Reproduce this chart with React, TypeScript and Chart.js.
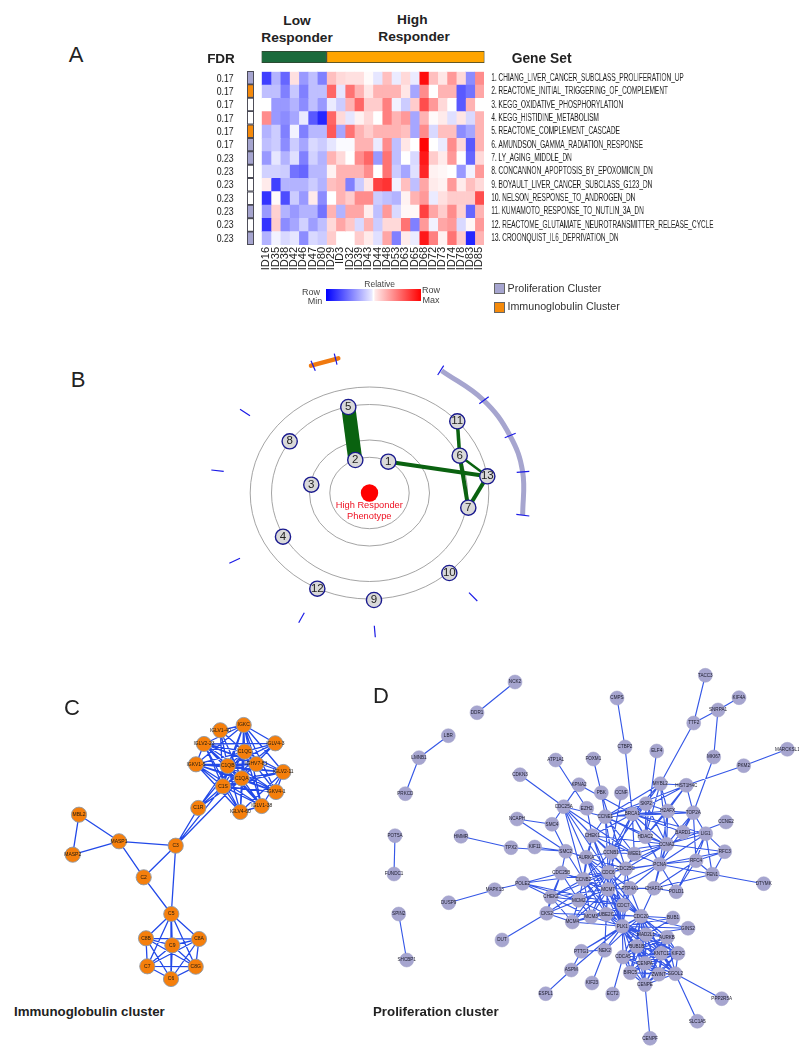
import React, { useEffect, useRef } from "react";
import { Chart, registerables } from "chart.js";
Chart.register(...registerables);

const SANS = '"Liberation Sans", Arial, sans-serif';

// ---------- Panel A data ----------
const sampleIds = ["ID16","ID35","ID38","ID42","ID46","ID47","ID80","ID29","ID3","ID32","ID39","ID43","ID44","ID48","ID53","ID63","ID65","ID68","ID72","ID73","ID74","ID78","ID83","ID85"];
const geneSets = [
  "1. CHIANG_LIVER_CANCER_SUBCLASS_PROLIFERATION_UP",
  "2. REACTOME_INITIAL_TRIGGERING_OF_COMPLEMENT",
  "3. KEGG_OXIDATIVE_PHOSPHORYLATION",
  "4. KEGG_HISTIDINE_METABOLISM",
  "5. REACTOME_COMPLEMENT_CASCADE",
  "6. AMUNDSON_GAMMA_RADIATION_RESPONSE",
  "7. LY_AGING_MIDDLE_DN",
  "8. CONCANNON_APOPTOSIS_BY_EPOXOMICIN_DN",
  "9. BOYAULT_LIVER_CANCER_SUBCLASS_G123_DN",
  "10. NELSON_RESPONSE_TO_ANDROGEN_DN",
  "11. KUMAMOTO_RESPONSE_TO_NUTLIN_3A_DN",
  "12. REACTOME_GLUTAMATE_NEUROTRANSMITTER_RELEASE_CYCLE",
  "13. CROONQUIST_IL6_DEPRIVATION_DN",
];
const fdrLabels = ["0.17","0.17","0.17","0.17","0.17","0.17","0.23","0.23","0.23","0.23","0.23","0.23","0.23"];
const clusterOfSet = ["P","O","N","N","O","P","P","N","N","N","P","N","P"];
const responderGroups = [["Low", 7], ["High", 17]];
const row1 = [-.75,-.3,-.6,.12,-.4,-.25,-.5,.25,.15,.12,.12,.02,-.1,.25,-.08,.15,-.08,.95,.25,.1,.4,.15,-.45,.45];
const row2 = [-.25,-.25,-.5,-.22,-.5,-.25,-.25,.6,-.1,.55,.3,.1,.3,.3,.3,.1,-.35,.45,0,.3,.3,-.65,-.55,.35];
const row3 = [0,-.4,-.4,-.3,-.45,-.25,-.4,-.08,-.2,.3,.6,.2,.2,.5,-.05,-.2,.2,.7,.4,.15,0,-.65,.3,0];
const row4 = [.45,-.4,-.45,-.35,-.08,-.65,-.85,.6,.15,-.1,.05,.15,0,.5,.3,.4,-.35,.3,.02,.08,-.12,.1,-.15,.3];
const row5 = [-.3,-.2,-.5,-.05,-.5,-.28,-.28,.65,-.35,.55,.3,.2,.3,.3,.3,.25,-.35,.45,-.15,.25,.25,-.45,-.35,.3];
const row6 = [-.25,-.2,-.45,-.2,-.35,-.15,-.2,-.1,-.02,-.02,.3,.3,-.08,.45,-.25,.1,0,.98,0,-.08,.45,.15,-.65,.3];
const row7 = [-.4,-.1,-.3,-.12,-.5,-.18,-.3,.3,.15,0,.45,.6,-.4,.55,-.25,0,-.15,.9,.2,.08,.4,0,-.6,.15];
const row8 = [-.18,-.18,-.2,-.55,-.6,-.28,-.28,.05,.3,.3,.3,.45,0,.55,-.2,-.35,-.12,.85,.05,.03,0,-.4,-.05,.4];
const row9 = [.08,-.75,-.3,-.3,-.3,-.2,-.3,.25,.3,-.5,-.2,.1,.75,.8,-.05,.25,-.25,.35,.08,.05,.4,.08,.25,.15];
const row10 = [-.8,.02,-.7,-.2,-.4,.08,-.45,0,.3,.2,.45,.45,-.2,-.25,-.3,.05,.3,.4,-.08,.12,.2,.2,.2,.7];
const row11 = [-.4,.18,-.3,-.4,-.3,-.3,-.55,.3,-.3,.35,.35,.07,-.25,.4,-.15,.03,.03,.75,.35,.2,.45,.18,-.6,.3];
const row12 = [-.8,.2,-.45,-.35,-.18,-.38,-.25,.15,.35,.22,-.15,.3,-.2,.15,.15,.55,-.5,.4,-.05,.35,.4,-.15,.03,.4];
const row13 = [-.3,-.05,-.15,-.1,-.45,-.15,-.2,.2,0,0,.2,.08,-.12,.35,-.5,.08,-.08,.9,.5,.05,.55,.2,-.85,.3];
const heatRows = [row1,row2,row3,row4,row5,row6,row7,row8,row9,row10,row11,row12,row13];

// ---------- Panel B data ----------
const enrichNodes: [string, number, number][] = [
  ["1",388.3,461.7],["2",355.3,460],["3",311.3,484.7],["4",283,536.7],["5",348.3,407],
  ["6",459.7,455.7],["7",468.3,507.7],["8",289.7,441.3],["9",374,600],["10",449.3,573],
  ["11",457.3,421.3],["12",317.3,588.7],["13",487.3,476.3],
];
const enrichEdges: [string, string, number][] = [
  ["5","2",14],["1","13",4],["11","6",3.5],["6","13",2.5],["6","7",4],["7","13",4],
];
const ringRadiiX = [39.7, 60, 98, 119.3];
const ringRadiiY = [35.7, 53, 88.5, 106];
const phenotypeCentre = { x: 369.5, y: 493 };
const sectorTicks = [
  [240,409.3,250,415.7],[211.3,470,223.7,471.3],[229.3,563.3,240,558.3],[298.7,622.7,304.3,612.7],
  [374.3,625.7,375.3,637.3],[469,592.7,477.3,601],[437.7,375,443.7,365.7],[479.3,403.7,488.7,396.7],
  [504.7,437.7,515.7,433.3],[516.7,472.3,529.3,471.3],[516.3,514.3,529.3,516],
];
const orangeTicks = [[311,360.7,315.3,370.7],[334.3,353.7,337,364.7]];
const proliferationArc = [[441.7,370.7],[483.3,400],[510,435.7],[522.7,472],[522.7,515]];
const immunoArc = [[311,365.7],[338.3,358.3]];

// ---------- Panel C data ----------
const immunoNodes: [string, number, number][] = [
  ["IGKC",243.7,725],["IGLV1-40",220.3,730.3],["IGLV2-23",204,744],["IGLV4-3",275.3,743.3],["C1QC",244.7,751.7],
  ["IGKV1-5",196,764.3],["C1QB",227.7,766],["IGHV7-81",256.3,764],["IGLV2-11",283.3,772],["C1QA",241.7,778.3],
  ["C1S",223,786.3],["IGKV4-1",276,792],["IGLV1-38",261.7,806],["IGLV4-60",240.3,812],["C1R",198.3,808],
  ["MBL2",79,814.7],["MASP1",119,841.3],["MASP2",72.7,854.7],["C3",175.7,845.7],["C2",143.7,877.3],
  ["C5",171.3,914],["C8B",146,938.3],["C8A",199,939],["C9",172.3,945.3],["C7",147.3,966.3],["C8G",195.7,966.7],["C6",171,979],
];
const immunoLeaves = ["IGKC","IGLV1-40","IGLV2-23","IGLV4-3","IGKV1-5","IGHV7-81","IGLV2-11","IGKV4-1","IGLV1-38","IGLV4-60"];
const immunoHubs = ["C1QA","C1QB","C1QC","C1S"];
const immunoHubEdges = ["C1QA C1QB","C1QA C1QC","C1QB C1QC","C1S C1QA","C1S C1QB","C1S C1QC","C1R C1S","C1R C1QA","C1R C1QB","C1R C1QC"];
const complementEdges = ["C3 C1R","C3 C1S","C3 C1QA","MBL2 MASP1","MBL2 MASP2","MASP1 MASP2","MASP1 C3","MASP1 C2","C2 C3","C2 C5","C3 C5"];
const terminalClique = ["C5","C8B","C8A","C9","C7","C8G","C6"];

// ---------- Panel D data ----------
const proliferationNodes: [string, number, number][] = [
  ["NCK2",515,682],["DDR1",477,712.7],["LBR",448.3,735.7],["LMNB1",419,757.7],["PRKCD",405.3,793.7],["POT5A",395,835.7],
  ["FUNDC1",394,874],["SPIN2",398.7,914],["SHCBP1",406.7,960],["HMMR",461,836.3],["TPX2",511,847.7],["KIF11",534.7,847],
  ["SMC2",565.7,851.3],["NCAPH",517,819],["SMC4",552,824.3],["CDKN3",520,774.7],["ATP1A1",555.7,760],["KPNA2",579,784.7],
  ["CDC25A",563.7,806.7],["FOXM1",593.3,759],["CMPS",617,698],["CTBP2",625,747],["ELF4",656.7,751],["TACC3",705.3,675.3],
  ["KIF4A",739,697.7],["SNRPA1",718,710],["TTF2",693.7,723],["MKI67",713.7,757],["MARCKSL1",787.3,749.3],["PKM2",743.7,765.7],
  ["MYBL2",660.3,783.7],["HIST1H4C",686.3,785.3],["PBK",601.3,792.7],["CCNF",621.3,793],["SKP2",646,803.7],["H2AFX",667.7,811],
  ["TOP2A",693.3,812.7],["CCNE1",605.3,816.7],["BRCA1",632.3,814],["EZH2",586.7,808.3],["CHEK1",592.3,835.7],["HDAC2",645.3,836.7],
  ["BARD1",683,832.3],["LIG1",705.7,833.7],["CCNE2",726,822],["CCNA2",666.7,844.3],["RFC3",724.7,851.7],["CCNB1",611,852.3],
  ["WEE1",634.3,854],["AURKA",586.3,857.3],["RFC4",696,860.7],["FEN1",712.3,874.3],["PCNA",659.7,864.3],["CDC25C",625.7,868.7],
  ["CDC6",608.3,872.3],["CCNB2",583.3,879.3],["CDC25B",561.3,873],["POLE2",522.7,883.3],["MAPK13",494.7,889.7],["DUSP9",448.7,902.7],
  ["CHEK2",551,897],["CKS2",546.7,913.3],["MCM4",572.3,922],["MCM2",578.7,900.3],["DUT",502,940],["MCM7",608,889.3],
  ["PTP4A1",630,888.3],["CHAF1A",654,888.3],["POLD1",676.3,891.7],["MCM3",591,916.7],["UBE2C",606.3,914.3],["CDC7",623.3,905.3],
  ["CDC20",641,916.3],["BUB1",673,918],["GINS2",688,928.3],["PLK1",622.3,926.3],["MAD2L1",646,934.7],["AURKB",667,937.3],
  ["NEK2",604.7,950.3],["PTTG1",581.3,951.3],["ASPM",571.3,970],["ESPL1",545.7,993.7],["KIF23",592,983],["ECT2",612.7,994],
  ["CDCA5",623,957],["BUB1B",636.7,946.3],["KNTC1",661.3,953.3],["KIF2C",678,953.3],["CENPA",645,963.3],["BIRC5",630.3,972.7],
  ["ZWINT",658.7,974.3],["SGOL2",675.3,973.7],["CENPE",645,984.7],["CENPF",650,1038.3],["SLC1A5",697.3,1021.3],["PPP2R5A",721.7,998.7],
  ["DTYMK",763.7,883.7],
];
const proliferationLinks = [
  "NCK2 DDR1","LBR LMNB1","LMNB1 PRKCD","POT5A FUNDC1","SPIN2 SHCBP1",
  "TACC3 TTF2","TTF2 SNRPA1","SNRPA1 KIF4A","SNRPA1 MKI67","MKI67 TOP2A","TTF2 MYBL2","CMPS CTBP2","CTBP2 BRCA1","ELF4 HDAC2",
  "MARCKSL1 PKM2","PKM2 HIST1H4C","HIST1H4C CCNE1","HMMR TPX2","TPX2 SMC2","KIF11 SMC2","NCAPH SMC4","NCAPH SMC2","SMC4 SMC2","SMC4 CDC25A",
  "CDKN3 CDC25A","ATP1A1 EZH2","KPNA2 CDC25A","KPNA2 BRCA1","FOXM1 PBK","DTYMK FEN1","DUT CKS2","DUSP9 MAPK13","MAPK13 POLE2",
  "KIF23 NEK2","ECT2 CDCA5","ESPL1 ASPM","ASPM PTTG1","ASPM PLK1","PTTG1 PLK1","CENPE CENPF","SGOL2 PPP2R5A","SGOL2 SLC1A5",
  "BRCA1 CCNE1 H2AFX TOP2A HDAC2 CHEK1 MYBL2 SKP2 BARD1 CCNA2 WEE1 PCNA LIG1 CCNB1 CDC6 HIST1H4C",
  "CCNE1 PBK CHEK1 H2AFX SKP2 MYBL2 HDAC2 CCNA2 CCNB1 CDC25A CDC6 WEE1 TOP2A",
  "H2AFX HIST1H4C BARD1 TOP2A CCNA2 HDAC2 MYBL2 SKP2 PCNA",
  "TOP2A HIST1H4C LIG1 RFC4 CCNA2 BARD1 PCNA",
  "HIST1H4C HDAC2 MYBL2",
  "MYBL2 SKP2 CCNA2 HDAC2",
  "SKP2 CCNA2 CCNB1 HDAC2",
  "LIG1 RFC3 RFC4 FEN1 PCNA CCNA2 BARD1 POLD1",
  "CCNE2 CCNA2","CCNF CCNB1","EZH2 CHEK1","PBK CDC25C",
  "RFC3 RFC4 FEN1 PCNA CCNA2","RFC4 FEN1 PCNA POLD1 CHAF1A",
  "CHEK1 CDC25A CCNB1 AURKA CDC6 WEE1 CDC25C PLK1 CCNB2 CCNA2",
  "CDC25A AURKA CDC25C CCNB2 CDC6 WEE1",
  "SMC2 AURKA CCNB2 CDC25B",
  "AURKA CCNB1 CCNB2 CDC25C CDC6 PLK1 UBE2C CDC20 MCM7",
  "CCNB1 CDC25C WEE1 CDC6 CCNA2 CCNB2 PLK1",
  "WEE1 CDC25C CCNA2 PCNA",
  "CCNA2 PCNA CDC25C HDAC2 CDC6 CHAF1A",
  "PCNA CDC25C CDC25C CHAF1A POLD1 FEN1 MCM7 CDC6 PTP4A1 HDAC2",
  "CHAF1A POLD1 POLD1 FEN1 PTP4A1 CDC20",
  "CDC25C CDC6 MCM7 CCNB2 PTP4A1 CDC7",
  "CDC6 CCNB2 MCM7 PTP4A1 CDC7 MCM2 MCM4 UBE2C MCM3 PLK1 CDC20 CHEK2 CKS2 POLE2",
  "CCNB2 PLK1 CDC20 UBE2C MCM3 CDC25B CHEK2 MCM7 MCM2",
  "CDC25B POLE2 CHEK2 MCM2 CKS2",
  "POLE2 CHEK2 MCM2 CDC7",
  "CHEK2 MCM2 MCM3 MCM4 MCM7 CDC7 CKS2",
  "CKS2 MCM2 MCM4 CDC20",
  "MCM2 MCM3 MCM4 MCM7 CDC7 UBE2C",
  "MCM3 MCM4 MCM7 CDC7 UBE2C PLK1",
  "MCM4 MCM7 CDC7 UBE2C PLK1",
  "MCM7 PTP4A1 CDC7 UBE2C PLK1 CDC20",
  "PTP4A1 CDC7 CDC20 PLK1",
  "CDC7 CDC20 PLK1 UBE2C",
  "UBE2C PLK1 CDC20 NEK2 MAD2L1 BUB1B",
  "NEK2 PLK1 CDC20 PTTG1",
  "PTTG1 CDC20",
  "PLK1 CDC20 MAD2L1 AURKB BUB1 BUB1B CDCA5 KNTC1 KIF2C CENPA BIRC5 ZWINT SGOL2 CENPE GINS2",
  "CDC20 BUB1 GINS2 MAD2L1 AURKB BUB1B CDCA5 KNTC1 KIF2C CENPA BIRC5 ZWINT SGOL2 CENPE",
  "MAD2L1 BUB1 GINS2 AURKB BUB1B CDCA5 KNTC1 KIF2C CENPA BIRC5 ZWINT SGOL2 CENPE",
  "AURKB BUB1B CDCA5 KNTC1 KIF2C CENPA BIRC5 ZWINT SGOL2 CENPE",
  "BUB1B CDCA5 KNTC1 KIF2C CENPA BIRC5 ZWINT SGOL2 CENPE",
  "CDCA5 KNTC1 KIF2C CENPA BIRC5 ZWINT SGOL2 CENPE",
  "KNTC1 KIF2C CENPA BIRC5 ZWINT SGOL2 CENPE",
  "KIF2C CENPA BIRC5 ZWINT SGOL2 CENPE",
  "CENPA BIRC5 ZWINT SGOL2 CENPE",
  "BIRC5 ZWINT SGOL2 CENPE",
  "ZWINT SGOL2 CENPE","SGOL2 CENPE",
];

// ---------- helpers ----------
function heatColor(v: number) {
  const k = Math.round(255 * (1 - Math.abs(v)));
  return v >= 0 ? `rgb(255,${k},${k})` : `rgb(${k},${k},255)`;
}
const clusterColor: Record<string, string> = { P: "#a6a5cf", O: "#f58a0b", N: "#ffffff" };

type Rect = { left: number; top: number; width: number; height: number };

const pageScales = (r: Rect) => ({
  x: { type: "linear", display: false, min: r.left, max: r.left + r.width },
  y: { type: "linear", display: false, min: r.top, max: r.top + r.height, reverse: true },
});
const baseOptions = {
  animation: false, responsive: false, maintainAspectRatio: false,
  layout: { padding: 0, autoPadding: false },
  plugins: { legend: { display: false }, tooltip: { enabled: false } },
};

const nodeLabelPlugin = (labels: string[], font: string, color: string, datasetIndex = 0) => ({
  id: "nodeLabels",
  afterDatasetsDraw(chart: any) {
    const { ctx } = chart;
    const meta = chart.getDatasetMeta(datasetIndex);
    ctx.save();
    ctx.font = font; ctx.fillStyle = color; ctx.textAlign = "center"; ctx.textBaseline = "middle";
    meta.data.forEach((p: any, i: number) => ctx.fillText(labels[i], p.x, p.y));
    ctx.restore();
  },
});

function expandLinks(lines: string[]) {
  const out: [string, string][] = [];
  lines.forEach((l) => { const [h, ...rest] = l.split(" "); rest.forEach((t) => out.push([h, t])); });
  return out;
}
function networkDatasets(nodes: [string, number, number][], edges: [string, string][], node: any, edge: any) {
  const at = new Map(nodes.map((n) => [n[0], { x: n[1], y: n[2] }]));
  const lineData: any[] = [];
  edges.forEach(([a, b]) => {
    const p = at.get(a), q = at.get(b);
    if (p && q) lineData.push(p, q, { x: NaN, y: NaN });
  });
  return [
    { data: nodes.map((n) => ({ x: n[1], y: n[2] })), order: 0, showLine: false, ...node },
    { data: lineData, order: 1, showLine: true, pointRadius: 0, spanGaps: false, ...edge },
  ];
}

const Txt = ({ x, y, s, size, bold, color, align = "center", family = SANS }: any) => (
  <div style={{
    position: "absolute", left: x, top: y, whiteSpace: "nowrap", lineHeight: 1, fontFamily: family,
    fontSize: size, fontWeight: bold ? 700 : 400, color: color || "#222",
    transform: align === "center" ? "translate(-50%,-50%)" : "translate(0,-50%)",
  }}>{s}</div>
);

// ---------- Charts ----------
const heatRect = { left: 261, top: 65, width: 224, height: 217 };
const stripRect = { left: 246, top: 70, width: 9, height: 176 };
const groupRect = { left: 261, top: 50, width: 224, height: 14 };
const bRect = { left: 200, top: 340, width: 350, height: 310 };
const cRect = { left: 40, top: 700, width: 270, height: 300 };
const dRect = { left: 372, top: 660, width: 427, height: 390 };
// condensed text columns: the canvas is drawn wider than it is shown
const fdrRect = { left: 205, top: 65, width: 30, height: 190, drawWidth: 40 };
const geneRect = { left: 490, top: 65, width: 240, height: 190, drawWidth: 369 };

function Canvas({ rect, make }: { rect: Rect & { drawWidth?: number }; make: (c: HTMLCanvasElement) => any }) {
  const ref = useRef<HTMLCanvasElement>(null);
  useEffect(() => {
    const ch = make(ref.current!);
    const el = ref.current!;
    el.style.width = rect.width + "px";
    el.style.height = rect.height + "px";
    return () => ch.destroy();
  }, []);
  return (
    <canvas ref={ref} width={rect.drawWidth ?? rect.width} height={rect.height}
      style={{ position: "absolute", left: rect.left, top: rect.top, width: rect.width, height: rect.height, display: "block" }} />
  );
}

const makeHeat = (c: HTMLCanvasElement) => new Chart(c, {
  type: "bar",
  data: {
    labels: geneSets,
    datasets: sampleIds.map((id, col) => ({
      label: id,
      data: geneSets.map(() => 1),
      backgroundColor: heatRows.map((r) => heatColor(r[col])),
      borderWidth: 0, barPercentage: 1, categoryPercentage: 1, stack: "s",
    })),
  },
  options: {
    ...baseOptions,
    indexAxis: "y",
    layout: { autoPadding: false, padding: { top: 6.7, left: 0.7, right: 1 } },
    scales: {
      x: { type: "linear", stacked: true, display: false, min: 0, max: 24 },
      y: { type: "category", stacked: true, offset: true, display: false },
      x2: {
        type: "category", axis: "x", position: "bottom", labels: sampleIds, offset: true,
        grid: { display: false, drawTicks: false }, border: { display: false },
        ticks: { padding: 2, color: "#222", font: { family: SANS, size: 11 }, minRotation: 90, maxRotation: 90, autoSkip: false },
        afterFit: (s: any) => { s.height = 37; s.paddingLeft = 0; s.paddingRight = 0; },
      },
    },
  },
} as any);

const labelColumn = (labels: string[], position: string, size: number) => (c: HTMLCanvasElement) => new Chart(c, {
  type: "bar",
  data: { labels, datasets: [] },
  options: {
    ...baseOptions,
    layout: { autoPadding: false, padding: { top: 6.7, bottom: 10 } },
    scales: {
      x: { display: false },
      y: {
        type: "category", position, offset: true,
        grid: { display: false, drawTicks: false }, border: { display: false },
        ticks: { padding: 0, color: "#222", font: { family: SANS, size }, autoSkip: false },
        afterFit: (s: any) => { s.width = c.width - 2; s.paddingTop = 0; s.paddingBottom = 0; },
      },
    },
  },
} as any);

const makeStrip = (c: HTMLCanvasElement) => new Chart(c, {
  type: "bar",
  data: {
    labels: fdrLabels.map((_, i) => String(i + 1)),
    datasets: [{
      data: clusterOfSet.map(() => 1),
      backgroundColor: clusterOfSet.map((k) => clusterColor[k]),
      borderColor: "#4a4a55", borderWidth: 1.3, borderSkipped: false, barPercentage: 1, categoryPercentage: 1,
    }],
  },
  options: {
    ...baseOptions, indexAxis: "y",
    layout: { autoPadding: false, padding: { left: 1, right: 1, top: 1, bottom: 1 } },
    scales: { x: { display: false, min: 0, max: 1 }, y: { display: false, offset: true } },
  },
} as any);

const makeGroups = (c: HTMLCanvasElement) => new Chart(c, {
  type: "bar",
  data: {
    labels: ["group"],
    datasets: responderGroups.map(([name, n], i) => ({
      label: name as string, data: [n as number],
      backgroundColor: ["#1b6b3c", "#ffa500"][i],
      borderColor: "#33402f", borderWidth: 1, borderSkipped: false, barPercentage: 1, categoryPercentage: 1,
    })),
  },
  options: {
    ...baseOptions, indexAxis: "y",
    layout: { autoPadding: false, padding: { left: 0.5, right: 0.5, top: 1, bottom: 1 } },
    scales: { x: { display: false, stacked: true, min: 0, max: 24 }, y: { display: false, stacked: true } },
  },
} as any);

const ringsPlugin = {
  id: "rings",
  beforeDatasetsDraw(chart: any) {
    const { ctx, scales } = chart;
    const cx = scales.x.getPixelForValue(phenotypeCentre.x);
    const cy = scales.y.getPixelForValue(phenotypeCentre.y);
    ctx.save();
    ctx.strokeStyle = "#9a9a9a"; ctx.lineWidth = 0.9;
    ringRadiiX.forEach((rx, i) => {
      const px = scales.x.getPixelForValue(phenotypeCentre.x + rx) - cx;
      const py = scales.y.getPixelForValue(phenotypeCentre.y + ringRadiiY[i]) - cy;
      ctx.beginPath(); ctx.ellipse(cx, cy, px, py, 0, 0, Math.PI * 2); ctx.stroke();
    });
    ctx.restore();
  },
};

const makeEnrichment = (c: HTMLCanvasElement) => {
  const at = new Map(enrichNodes.map((n) => [n[0], { x: n[1], y: n[2] }]));
  const seg = (t: number[], color: string, order: number) => ({
    data: [{ x: t[0], y: t[1] }, { x: t[2], y: t[3] }], showLine: true, pointRadius: 0,
    borderColor: color, borderWidth: 1.2, order,
  });
  return new Chart(c, {
    type: "scatter",
    data: {
      datasets: [
        {
          data: enrichNodes.map((n) => ({ x: n[1], y: n[2] })), order: 0, pointRadius: 7.6,
          pointBackgroundColor: "#d9d9d9", pointBorderColor: "#1a1a8e", pointBorderWidth: 1.4,
        },
        { data: [phenotypeCentre], order: 1, pointRadius: 8.7, pointBackgroundColor: "#ff0000", pointBorderWidth: 0 },
        ...enrichEdges.map(([a, b, w]) => ({
          data: [at.get(a), at.get(b)], showLine: true, pointRadius: 0, borderColor: "#0a6210", borderWidth: w, order: 2,
        })),
        ...sectorTicks.map((t) => seg(t, "#1a1ae6", 3)),
        ...orangeTicks.map((t) => seg(t, "#1a1ae6", 3)),
        {
          data: proliferationArc.map(([x, y]) => ({ x, y })), showLine: true, tension: 0.4, pointRadius: 0,
          borderColor: "#a6a5cf", borderWidth: 5, order: 4, borderCapStyle: "butt",
        },
        {
          data: immunoArc.map(([x, y]) => ({ x, y })), showLine: true, pointRadius: 0,
          borderColor: "#f0790f", borderWidth: 4.5, order: 4, borderCapStyle: "round",
        },
      ],
    },
    options: { ...baseOptions, scales: pageScales(bRect) },
    plugins: [ringsPlugin, nodeLabelPlugin(enrichNodes.map((n) => n[0]), `11.5px ${SANS}`, "#222")],
  } as any);
};

const makeImmuno = (c: HTMLCanvasElement) => {
  const edges: [string, string][] = [];
  immunoHubs.forEach((h) => immunoLeaves.forEach((l) => edges.push([h, l])));
  immunoLeaves.forEach((a, i) => immunoLeaves.slice(i + 1).forEach((b) => { if (i % 2 === 0) edges.push([a, b]); }));
  terminalClique.forEach((a, i) => terminalClique.slice(i + 1).forEach((b) => edges.push([a, b])));
  [...immunoHubEdges, ...complementEdges].forEach((s) => { const [a, b] = s.split(" "); edges.push([a, b]); });
  return new Chart(c, {
    type: "scatter",
    data: {
      datasets: networkDatasets(immunoNodes, edges,
        { pointRadius: 7.6, pointBackgroundColor: "#f57f0c", pointBorderColor: "#8f9aa8", pointBorderWidth: 0.9 },
        { borderColor: "#2249e8", borderWidth: 1.3 }),
    },
    options: { ...baseOptions, scales: pageScales(cRect) },
    plugins: [nodeLabelPlugin(immunoNodes.map((n) => n[0]), `5px ${SANS}`, "#221a10")],
  } as any);
};

const makeProlif = (c: HTMLCanvasElement) => new Chart(c, {
  type: "scatter",
  data: {
    datasets: networkDatasets(proliferationNodes, expandLinks(proliferationLinks),
      { pointRadius: 7, pointBackgroundColor: "#a6a5cf", pointBorderColor: "#a0a0c8", pointBorderWidth: 0.5 },
      { borderColor: "#3557e6", borderWidth: 1.15 }),
  },
  options: { ...baseOptions, scales: pageScales(dRect) },
  plugins: [nodeLabelPlugin(proliferationNodes.map((n) => n[0]), `4.6px ${SANS}`, "#1c1c2c")],
} as any);

export default function App() {
  useEffect(() => { document.body.style.margin = "0"; document.body.style.background = "#fff"; }, []);
  return (
    <div style={{ position: "absolute", left: 0, top: 0, width: 799, height: 1050, background: "#fff", overflow: "hidden" }}>
      <Canvas rect={groupRect} make={makeGroups} />
      <Canvas rect={heatRect} make={makeHeat} />
      <Canvas rect={stripRect} make={makeStrip} />
      <Canvas rect={fdrRect} make={labelColumn(fdrLabels, "left", 11.5)} />
      <Canvas rect={geneRect} make={labelColumn(geneSets, "right", 10)} />
      <Canvas rect={bRect} make={makeEnrichment} />
      <Canvas rect={cRect} make={makeImmuno} />
      <Canvas rect={dRect} make={makeProlif} />

      <Txt x={76} y={55} s="A" size={22} />
      <Txt x={78} y={380} s="B" size={22} />
      <Txt x={72} y={708} s="C" size={22} />
      <Txt x={381} y={696} s="D" size={22} />

      <Txt x={297} y={21} s="Low" size={13.7} bold />
      <Txt x={297} y={38} s="Responder" size={13.7} bold />
      <Txt x={412.3} y={20} s="High" size={13.7} bold />
      <Txt x={414} y={36.7} s="Responder" size={13.7} bold />
      <Txt x={221} y={59} s="FDR" size={13.5} bold />
      <Txt x={511.7} y={59} s="Gene Set" size={13.8} bold align="left" />

      <div style={{ position: "absolute", left: 325.7, top: 289.3, width: 95, height: 11.4, background: "linear-gradient(90deg,#0000ff 0%,#e8e8ff 48%,#ffffff 50%,#ffe8e8 52%,#ff0000 100%)" }} />
      <Txt x={379.7} y={283.5} s="Relative" size={8.5} color="#444" />
      <Txt x={311} y={292} s="Row" size={9} color="#444" />
      <Txt x={315} y={301} s="Min" size={9} color="#444" />
      <Txt x={431} y={290} s="Row" size={9} color="#444" />
      <Txt x={431} y={300} s="Max" size={9} color="#444" />

      <div style={{ position: "absolute", left: 494, top: 283.3, width: 9, height: 9, background: "#a6a5cf", border: "1px solid #666" }} />
      <div style={{ position: "absolute", left: 494, top: 301.7, width: 9, height: 9, background: "#f58a0b", border: "1px solid #666" }} />
      <Txt x={507.5} y={288} s="Proliferation Cluster" size={10.7} align="left" color="#333" />
      <Txt x={507.5} y={306} s="Immunoglobulin Cluster" size={10.7} align="left" color="#333" />

      <Txt x={369.3} y={506} s="High Responder" size={9.3} color="#ee1122" />
      <Txt x={369.3} y={517} s="Phenotype" size={9.3} color="#ee1122" />

      <Txt x={14} y={1012} s="Immunoglobulin cluster" size={13.3} bold align="left" />
      <Txt x={373} y={1012} s="Proliferation cluster" size={13.3} bold align="left" />
    </div>
  );
}
